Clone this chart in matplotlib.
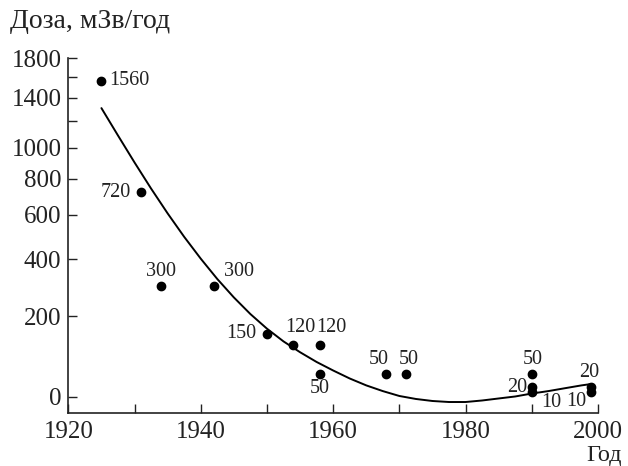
import numpy as np
import matplotlib
matplotlib.use("Agg")
import matplotlib.pyplot as plt

# ---- data ----
years = [1925, 1931, 1934, 1942, 1950, 1954, 1958, 1958, 1968, 1971, 1990, 1990, 1990, 1999, 1999]
doses = [1560, 720, 300, 300, 150, 120, 120, 50, 50, 50, 50, 20, 10, 20, 10]
labels = ["1560", "720", "300", "300", "150", "120", "120", "50", "50", "50", "50", "20", "10", "20", "10"]

curve_years = [1925, 1927.5, 1930, 1932.5, 1935, 1937.5, 1940, 1942.5, 1945, 1947.5,
               1950, 1952.5, 1955, 1957.5, 1960, 1962.5, 1965, 1967.5, 1970, 1972.5,
               1975, 1977.5, 1980, 1982.5, 1985, 1987.5, 1990, 1992.5, 1995, 1997.5, 1999]
curve_doses = [1310, 1090, 901, 741, 607, 495, 402, 324, 260, 207,
               164, 129, 101, 77, 57, 39, 24, 12, 2, -4,
               -8, -10, -10, -7, -3, 1, 7, 12, 18, 24, 27]

x_major = [1920, 1940, 1960, 1980, 2000]
x_minor = [1930, 1950, 1970, 1990]
y_major = [0, 200, 400, 600, 800, 1000, 1400, 1800]
y_minor = [1200, 1600]

# label placement (pixel offsets, ha, va)
label_pos = [
    (8, 0, "left", "center"),
    (-10, 0, "right", "center"),
    (0, 14, "center", "center"),
    (10, 14, "left", "center"),
    (-11, 0, "right", "center"),
    (7, 17, "center", "center"),
    (11, 17, "center", "center"),
    (0, -15, "center", "center"),
    (-7, 14, "center", "center"),
    (3, 14, "center", "center"),
    (1, 14, "center", "center"),
    (-5, 0, "right", "center"),
    (20, -10, "center", "center"),
    (-2, 15, "center", "center"),
    (-15, -9, "center", "center"),
]

plt.rcParams["font.family"] = ["Liberation Serif", "DejaVu Serif"]

fig = plt.figure(figsize=(6.28, 4.66), dpi=100)
ax = fig.add_axes([0.1088, 0.1137, 0.8434, 0.7618])

C = 400.0
ax.set_yscale("function", functions=(lambda v: np.log1p(np.asarray(v) / C),
                                     lambda v: C * np.expm1(np.asarray(v))))
ax.set_xlim(1920, 2000)
ax.set_ylim(-31, 1800)

ax.plot(curve_years, curve_doses, color="black", lw=1.4, solid_capstyle="round",
        solid_joinstyle="round")
ax.plot(years, doses, "o", color="black", markersize=6.0, linestyle="none")

for x, y, t, (dx, dy, ha, va) in zip(years, doses, labels, label_pos):
    ax.annotate(t, (x, y), xytext=(dx, dy), textcoords="offset pixels",
                ha=ha, va=va, fontsize=14.5, color="#222222")

ax.set_xticks(x_major)
ax.set_xticks(x_minor, minor=True)
ax.set_yticks(y_major)
ax.set_yticks(y_minor, minor=True)
ax.set_yticklabels([str(v) for v in y_major])
ax.set_xticklabels([str(v) for v in x_major])
ax.yaxis.set_minor_formatter(matplotlib.ticker.NullFormatter())
ax.xaxis.set_minor_formatter(matplotlib.ticker.NullFormatter())

for s in ["top", "right"]:
    ax.spines[s].set_visible(False)
for s in ["left", "bottom"]:
    ax.spines[s].set_linewidth(1.2)
    ax.spines[s].set_color("#222222")
ax.spines["left"].set_bounds(-31, 1800)

ax.tick_params(axis="both", which="both", direction="in", length=6.5, width=1.0,
               colors="#222222", labelsize=18)
ax.tick_params(axis="y", which="both", pad=5)
ax.tick_params(axis="x", which="both", pad=6)

fig.text(10 / 628, 1 - 22 / 466, "Доза, мЗв/год", fontsize=20, ha="left", va="center", color="#222222")
fig.text(622 / 628, 1 - 455 / 466, "Год", fontsize=17.5, ha="right", va="center", color="#222222")

fig.savefig("out.png", dpi=100)
